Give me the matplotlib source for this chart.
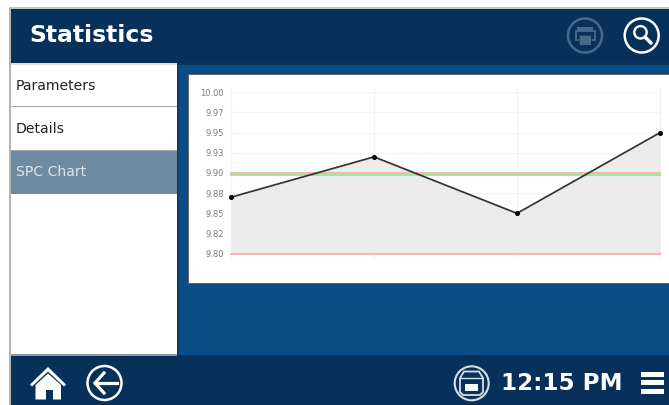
import matplotlib
matplotlib.use("Agg")
import matplotlib.pyplot as plt
from matplotlib.patches import Circle, Polygon, Rectangle

W = 669
H = 405

# chart values
samples = [0, 1, 2, 3]
values = [9.87, 9.92, 9.85, 9.95]
upper_limit = [9.90, 9.90, 9.90, 9.90]
target = [9.8975, 9.8975, 9.8975, 9.8975]
lower_limit = [9.80, 9.80, 9.80, 9.80]
y_ticks = [10.0, 9.975, 9.95, 9.925, 9.90, 9.875, 9.85, 9.825, 9.80]
y_labels = ["10.00", "9.97", "9.95", "9.93", "9.90", "9.88", "9.85", "9.82", "9.80"]

# screen text
title = "Statistics"
menu_items = ["Parameters", "Details", "SPC Chart"]
clock = "12:15 PM"

NAVY = "#07315a"
BLUE = "#0b4c86"
SELECTED = "#6f8aa3"
WHITE = "#ffffff"


def rect(ax, x0, y0, x1, y1, color, **kw):
    ax.add_patch(Rectangle((x0, y0), x1 - x0, y1 - y0, facecolor=color, edgecolor="none", **kw))


def draw_screen(ax):
    rect(ax, 0, 0, W, H, "#ffffff")
    rect(ax, 9, 7, W, 9, "#c4c4c4")
    rect(ax, 9, 7, 10.5, H, "#b5b5b5")
    rect(ax, 10.5, 9, W, 63, NAVY)
    rect(ax, 177, 63, W, 355, BLUE)
    rect(ax, 177, 63, W, 65, "#0a3560")
    rect(ax, 177, 63, 179, 355, "#0a3d6e")
    rect(ax, 10.5, 63, 177, 355, WHITE)
    rect(ax, 10.5, 63, 177, 65, "#dddddd")
    rect(ax, 10.5, 106, 177, 107, "#a8a8a8")
    rect(ax, 10.5, 150, 177, 194, SELECTED)
    rect(ax, 10.5, 149.5, 177, 150.5, "#a8a8a8")
    rect(ax, 10.5, 355, W, H, NAVY)
    rect(ax, 10.5, 354, 177, 355.5, "#9a9a9a")

    # chart card
    rect(ax, 188, 73.5, W, 283.5, "#666666")
    rect(ax, 189, 75, W, 282.5, WHITE)

    ax.text(29, 36, title, color=WHITE, fontsize=16.9, fontweight="bold", va="center", ha="left")
    colors = ["#222222", "#222222", "#dfe5ea"]
    for label, y, c in zip(menu_items, [85.5, 129, 172.5], colors):
        ax.text(16, y, label, color=c, fontsize=10.1, va="center", ha="left")
    ax.text(562, 384, clock, color=WHITE, fontsize=16.6, fontweight="bold", va="center", ha="center")


def draw_icons(ax):
    # print button, greyed out
    dim = "#466a8a"
    ax.add_patch(Circle((585, 35.5), 17, fill=False, edgecolor=dim, lw=1.8))
    rect(ax, 577, 26.5, 593, 29.5, dim)
    ax.add_patch(Rectangle((575.5, 31), 19, 9, fill=False, edgecolor=dim, lw=1.3))
    rect(ax, 579, 35, 591, 44.5, dim)
    ax.add_patch(Rectangle((579, 35), 12, 9.5, fill=False, edgecolor=NAVY, lw=0.5))

    # search button
    ax.add_patch(Circle((641.7, 35.5), 17, fill=False, edgecolor=WHITE, lw=1.8))
    ax.add_patch(Circle((640.5, 32.3), 6.2, fill=False, edgecolor=WHITE, lw=1.7))
    ax.plot([645, 651], [37, 43], color=WHITE, lw=2.6, solid_capstyle="round")

    # home
    ax.add_patch(Polygon([(30, 384.5), (48, 367), (66, 384.5), (64, 386.5), (48, 371.5), (32, 386.5)],
                         color=WHITE, lw=0))
    ax.add_patch(Polygon([(35.5, 385), (48, 373.5), (61, 385), (61, 399.5), (53, 399.5), (53, 390),
                          (46, 390), (46, 399.5), (35.5, 399.5)], color=WHITE, lw=0))

    # back
    ax.add_patch(Circle((104.5, 383), 17, fill=False, edgecolor=WHITE, lw=1.8))
    ax.plot([104, 95, 104], [373, 383, 393], color=WHITE, lw=2.3, solid_joinstyle="miter")
    ax.plot([95, 117], [383, 383], color=WHITE, lw=2.3)

    # printer status
    ax.add_patch(Circle((471.7, 383.3), 17, fill=False, edgecolor="#d8dfe6", lw=1.5))
    ax.add_patch(Polygon([(464, 371.5), (479, 371.5), (483, 378), (483, 392), (480, 395), (463, 395),
                          (460, 392), (460, 378)], fill=False, edgecolor="#d8dfe6", lw=1.3))
    rect(ax, 465, 384, 477.5, 390.5, WHITE)
    ax.plot([461, 482], [378, 378], color="#d8dfe6", lw=1)

    # menu bars
    for y0 in [371.7, 380, 389.3]:
        rect(ax, 640.5, y0, 664, y0 + 5, WHITE)


def draw_chart(fig):
    # axes box in screen pixels: 231-660 across, 92-254 down
    ax = fig.add_axes([231 / W, 1 - 253.7 / H, 429 / W, 161.4 / H], facecolor="none")
    ax.set_xlim(0, 3)
    ax.set_ylim(9.80, 10.0)

    ax.fill_between(samples, values, lower_limit, color="#ebebeb", lw=0, zorder=1)
    ax.plot(samples, upper_limit, color="#f7b5b5", lw=1.4, zorder=2, clip_on=False)
    ax.plot(samples, target, color="#96ee96", lw=1.4, zorder=3, clip_on=False)
    ax.plot(samples, lower_limit, color="#f7b5b5", lw=1.4, zorder=2, clip_on=False)
    ax.plot(samples, values, color="#333333", lw=1.25, marker="o", ms=2.6,
            mfc="black", mec="black", zorder=4, clip_on=False)

    ax.set_xticks(samples)
    ax.set_xticklabels([])
    ax.set_yticks(y_ticks)
    ax.set_yticklabels(y_labels, fontsize=6.0, color="#7d7d7d")
    ax.grid(True, axis="y", color="#f4f4f4", lw=0.9, zorder=0)
    ax.set_axisbelow(True)
    ax.tick_params(axis="y", length=0, pad=5)
    ax.tick_params(axis="x", length=3, color="#f2f2f2")
    for side in ["top", "right", "bottom", "left"]:
        ax.spines[side].set_visible(False)
    ax.vlines(samples, 9.80, 10.005, color="#f2f2f2", lw=0.9, zorder=0, clip_on=False)


if __name__ == "__main__":
    fig = plt.figure(figsize=(W / 100, H / 100), dpi=100)
    screen = fig.add_axes([0, 0, 1, 1])
    screen.set_xlim(0, W)
    screen.set_ylim(H, 0)
    screen.axis("off")
    draw_screen(screen)
    draw_icons(screen)
    draw_chart(fig)
    fig.savefig("out.png", dpi=100)
